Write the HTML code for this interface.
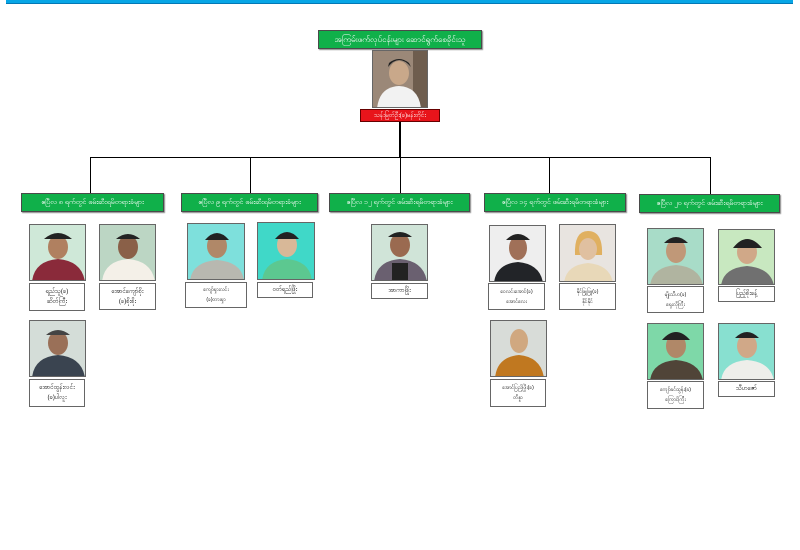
<!DOCTYPE html>
<html><head><meta charset="utf-8">
<style>
body{margin:0;width:800px;height:550px;background:#fff;position:relative;overflow:hidden;font-family:"Liberation Sans","Noto Sans CJK SC",sans-serif;}
.a{position:absolute;box-sizing:border-box;}
.bar{background:#07a6e6;border-bottom:1px solid #0378b5;}
.gh{background:#10b04a;border:1px solid #4a4a4a;color:#fff;font-size:7px;display:flex;align-items:center;justify-content:center;white-space:nowrap;overflow:hidden;box-shadow:1px 1px 1px #888;}
.ph{border:1px solid #666;overflow:hidden;}
.lb{background:#fff;border:1px solid #666;font-size:6px;display:flex;flex-direction:column;align-items:center;justify-content:center;text-align:center;line-height:10px;overflow:hidden;white-space:nowrap;}
.ln{background:#000;}
</style></head><body>
<div class="a bar" style="left:6px;top:0;width:787px;height:4px"></div>

<div class="a gh" style="left:318px;top:30px;width:164px;height:19px;font-size:8px">အကြမ်းဖက်လုပ်ငန်းများ ဆောင်ရွက်စေခိုင်းသူ</div>
<div class="a ph" style="left:372px;top:50px;width:56px;height:58px;background:#8a7a6a">
<svg width="56" height="58"><rect width="56" height="58" fill="#9b8878"/><rect x="40" y="0" width="16" height="58" fill="#6e5d4e"/><ellipse cx="26" cy="22" rx="10" ry="12" fill="#c9a88a"/><path d="M15 16 Q26 2 38 16 L36 12 Q26 4 16 12Z" fill="#222"/><path d="M4 58 Q6 36 26 35 Q46 36 48 58Z" fill="#f2f2f2"/></svg></div>
<div class="a" style="left:360px;top:109px;width:80px;height:13px;background:#e8141b;border:1px solid #600;color:#fff;font-size:6px;display:flex;align-items:center;justify-content:center;white-space:nowrap">သန်းမြတ်ဦး(ခ)မန်းတိုင်း</div>

<div class="a ln" style="left:399px;top:122px;width:2px;height:36px"></div>
<div class="a ln" style="left:90px;top:157px;width:621px;height:1px"></div>
<div class="a ln" style="left:90px;top:157px;width:1px;height:36px"></div>
<div class="a ln" style="left:250px;top:157px;width:1px;height:36px"></div>
<div class="a ln" style="left:400px;top:157px;width:1px;height:36px"></div>
<div class="a ln" style="left:549px;top:157px;width:1px;height:36px"></div>
<div class="a ln" style="left:710px;top:157px;width:1px;height:37px"></div>

<div class="a gh" style="left:21px;top:193px;width:143px;height:19px">ဧပြီလ ၈ ရက်တွင် ဖမ်းဆီးရမိတရားခံများ</div>
<div class="a gh" style="left:181px;top:193px;width:137px;height:19px">ဧပြီလ ၉ ရက်တွင် ဖမ်းဆီးရမိတရားခံများ</div>
<div class="a gh" style="left:329px;top:193px;width:141px;height:19px">ဧပြီလ ၁၂ ရက်တွင် ဖမ်းဆီးရမိတရားခံများ</div>
<div class="a gh" style="left:484px;top:193px;width:142px;height:19px">ဧပြီလ ၁၄ ရက်တွင် ဖမ်းဆီးရမိတရားခံများ</div>
<div class="a gh" style="left:639px;top:194px;width:141px;height:19px">ဧပြီလ ၂၀ ရက်တွင် ဖမ်းဆီးရမိတရားခံများ</div>

<!-- photos: bg, shirt -->
<div class="a ph" style="left:29px;top:224px;width:57px;height:57px"><svg width="57" height="57"><rect width="57" height="57" fill="#cfe8d8"/><ellipse cx="28" cy="22" rx="10" ry="12" fill="#b08060"/><path d="M14 14 Q28 2 42 14Z" fill="#222"/><path d="M2 57 Q4 36 28 34 Q52 36 55 57Z" fill="#8a2a3a"/></svg></div>
<div class="a lb" style="left:29px;top:283px;width:56px;height:28px"><span>ရည်သူ(ခ)</span><span>ဆိတ်ကြီး</span></div>
<div class="a ph" style="left:99px;top:224px;width:57px;height:57px"><svg width="57" height="57"><rect width="57" height="57" fill="#bcd6c4"/><ellipse cx="28" cy="22" rx="10" ry="12" fill="#8a6048"/><path d="M16 14 Q28 4 40 14Z" fill="#222"/><path d="M2 57 Q4 36 28 34 Q52 36 55 57Z" fill="#f4f0e8"/></svg></div>
<div class="a lb" style="left:99px;top:283px;width:57px;height:27px"><span>အောင်ကျော်စိုး</span><span>(ခ)စိုးစိုး</span></div>
<div class="a ph" style="left:29px;top:320px;width:57px;height:57px"><svg width="57" height="57"><rect width="57" height="57" fill="#d4ddd8"/><ellipse cx="28" cy="22" rx="10" ry="12" fill="#9a7058"/><path d="M16 14 Q28 4 40 14Z" fill="#444"/><path d="M2 57 Q4 36 28 34 Q52 36 55 57Z" fill="#3a4450"/></svg></div>
<div class="a lb" style="left:29px;top:379px;width:56px;height:28px"><span>အောင်ထွန်းလင်း</span><span>(ခ)ပါလူး</span></div>

<div class="a ph" style="left:187px;top:223px;width:58px;height:57px"><svg width="58" height="57"><rect width="58" height="57" fill="#7ee0dc"/><ellipse cx="29" cy="22" rx="10" ry="12" fill="#b08868"/><path d="M17 16 Q29 2 41 16Z" fill="#222"/><path d="M2 57 Q4 38 29 36 Q54 38 56 57Z" fill="#b8b8b0"/></svg></div>
<div class="a lb" style="left:185px;top:282px;width:62px;height:26px;font-size:5px"><span>ကျော်ရှားလင်း</span><span>(ခ)တားရှာ</span></div>
<div class="a ph" style="left:257px;top:222px;width:58px;height:58px"><svg width="58" height="58"><rect width="58" height="58" fill="#40d8c8"/><ellipse cx="29" cy="22" rx="10" ry="12" fill="#d8b898"/><path d="M17 16 Q29 2 41 16Z" fill="#222"/><path d="M4 58 Q6 38 29 36 Q52 38 54 58Z" fill="#5cc890"/></svg></div>
<div class="a lb" style="left:257px;top:282px;width:56px;height:16px"><span>ဝတ်ရည်ဖြိုး</span></div>

<div class="a ph" style="left:371px;top:224px;width:57px;height:57px"><svg width="57" height="57"><rect width="57" height="57" fill="#d0e4d8"/><ellipse cx="28" cy="20" rx="10" ry="12" fill="#9a6a50"/><path d="M16 12 Q28 2 40 12Z" fill="#222"/><path d="M2 57 Q4 36 28 34 Q52 36 55 57Z" fill="#6a6070"/><rect x="20" y="38" width="16" height="19" fill="#222"/></svg></div>
<div class="a lb" style="left:371px;top:283px;width:57px;height:16px"><span>အာကာဖြိုး</span></div>

<div class="a ph" style="left:489px;top:225px;width:57px;height:57px"><svg width="57" height="57"><rect width="57" height="57" fill="#eeeeee"/><ellipse cx="28" cy="22" rx="9" ry="12" fill="#a07058"/><path d="M16 14 Q28 2 40 14Z" fill="#222"/><path d="M4 57 Q6 38 28 36 Q50 38 53 57Z" fill="#222428"/></svg></div>
<div class="a lb" style="left:488px;top:283px;width:57px;height:27px;font-size:5px"><span>ဝေလင်းအောင်(ခ)</span><span>အောင်လေး</span></div>
<div class="a ph" style="left:559px;top:224px;width:57px;height:58px"><svg width="57" height="58"><rect width="57" height="58" fill="#e8e4e0"/><path d="M15 30 Q14 6 28 6 Q43 6 42 30Z" fill="#e0b060"/><ellipse cx="28" cy="24" rx="9" ry="11" fill="#e0c0a0"/><path d="M4 58 Q6 40 28 38 Q50 40 53 58Z" fill="#e8d8b8"/></svg></div>
<div class="a lb" style="left:559px;top:283px;width:57px;height:27px;font-size:5px"><span>နိုင်ဖြူဖြူ(ခ)</span><span>နိုင်နိုင်</span></div>
<div class="a ph" style="left:490px;top:320px;width:57px;height:57px"><svg width="57" height="57"><rect width="57" height="57" fill="#d8dcd8"/><ellipse cx="28" cy="20" rx="9" ry="12" fill="#d0a880"/><path d="M4 57 Q6 36 28 34 Q50 36 53 57Z" fill="#c07820"/></svg></div>
<div class="a lb" style="left:490px;top:379px;width:56px;height:28px;font-size:5px"><span>အောင်ပြည့်ဖြိုး(ခ)</span><span>တိန္နာ</span></div>

<div class="a ph" style="left:647px;top:228px;width:57px;height:57px"><svg width="57" height="57"><rect width="57" height="57" fill="#a8dcc8"/><ellipse cx="28" cy="22" rx="10" ry="12" fill="#c09878"/><path d="M16 14 Q28 2 40 14Z" fill="#222"/><path d="M2 57 Q4 38 28 36 Q52 38 55 57Z" fill="#b0b4a0"/></svg></div>
<div class="a lb" style="left:647px;top:286px;width:57px;height:27px;font-size:5px"><span>မျိုးသီဟ(ခ)</span><span>ရှေးလိုကြီး</span></div>
<div class="a ph" style="left:718px;top:229px;width:57px;height:56px"><svg width="57" height="56"><rect width="57" height="56" fill="#c8e8c0"/><ellipse cx="28" cy="22" rx="10" ry="12" fill="#d0a888"/><path d="M14 18 Q28 0 43 18Z" fill="#222"/><path d="M2 56 Q4 38 28 36 Q52 38 55 56Z" fill="#707070"/></svg></div>
<div class="a lb" style="left:718px;top:286px;width:57px;height:16px"><span>ပြည့်စိုးခန့်</span></div>
<div class="a ph" style="left:647px;top:323px;width:57px;height:57px"><svg width="57" height="57"><rect width="57" height="57" fill="#7ed8a8"/><ellipse cx="28" cy="22" rx="10" ry="12" fill="#b08868"/><path d="M14 16 Q28 0 42 16Z" fill="#222"/><path d="M2 57 Q4 38 28 36 Q52 38 55 57Z" fill="#504438"/></svg></div>
<div class="a lb" style="left:647px;top:381px;width:57px;height:28px;font-size:5px"><span>ကျော်ခင်ထွန်း(ခ)</span><span>ကြောင်ကြီး</span></div>
<div class="a ph" style="left:718px;top:323px;width:57px;height:57px"><svg width="57" height="57"><rect width="57" height="57" fill="#88e0d0"/><ellipse cx="28" cy="22" rx="10" ry="12" fill="#d0a888"/><path d="M16 14 Q28 2 40 14Z" fill="#222"/><path d="M2 57 Q4 38 28 36 Q52 38 55 57Z" fill="#eeeeea"/></svg></div>
<div class="a lb" style="left:718px;top:381px;width:57px;height:16px"><span>သီဟဇော်</span></div>
</body></html>
